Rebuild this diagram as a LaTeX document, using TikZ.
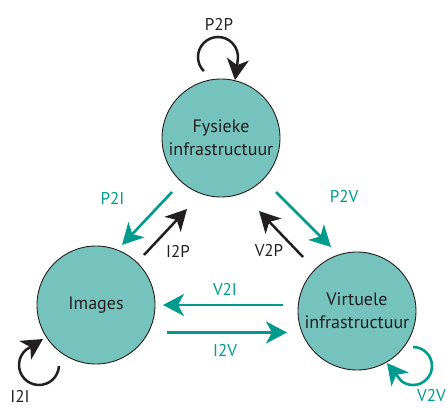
\documentclass[tikz,border=0pt]{standalone}
\usepackage{fontspec}
\setmainfont{PT Sans}
\usetikzlibrary{arrows.meta}
\definecolor{tealfill}{HTML}{76C3BD}
\definecolor{tealline}{HTML}{009B8D}
\definecolor{ink}{HTML}{231F20}
\begin{document}
\begin{tikzpicture}[x=1pt,y=-1pt,
  state/.style={circle, draw=ink, line width=0.9pt, fill=tealfill, minimum size=118pt,
    inner sep=0pt, align=center, font=\fontsize{18}{23}\selectfont, text=ink},
  lbl/.style={font=\fontsize{17}{20}\selectfont, inner sep=0pt},
  tip/.style={-{Stealth[length=21pt,width=22pt,inset=6pt]}},
  blackarr/.style={tip, draw=ink, line width=2.5pt},
  tealarr/.style={tip, draw=tealline, line width=2.6pt},
  ]
\useasboundingbox (0,0) rectangle (447,407);

% states
\node[state] (P) at (221,138) {Fysieke\\infrastructuur};
\node[state] (I) at (96,305) {Images};
\node[state] (V) at (357,311) {Virtuele\\infrastructuur};

% arrow end points
\coordinate (p2iS) at (172,192); \coordinate (p2iE) at (122,245);
\coordinate (i2pS) at (144,255); \coordinate (i2pE) at (187,209);
\coordinate (p2vS) at (276,192); \coordinate (p2vE) at (331,247);
\coordinate (v2pS) at (303,257); \coordinate (v2pE) at (259,211);
\coordinate (v2iS) at (283,305); \coordinate (v2iE) at (163,305);
\coordinate (i2vS) at (167,332.5); \coordinate (i2vE) at (287,332.5);

\draw[tealarr] (p2iS) -- (p2iE);
\draw[blackarr] (i2pS) -- (i2pE);
\draw[tealarr] (p2vS) -- (p2vE);
\draw[blackarr] (v2pS) -- (v2pE);
\draw[tealarr] (v2iS) -- (v2iE);
\draw[tealarr] (i2vS) -- (i2vE);

% loops
\coordinate (cP) at (218,57);  \coordinate (tP) at (235,80);
\coordinate (cI) at (39,365);  \coordinate (tI) at (43,339);
\coordinate (cV) at (413,366); \coordinate (tV) at (387,363);
\draw[blackarr] ([shift={(225:20pt)}]cP) arc[start angle=225, end angle=-10, radius=20pt] -- (tP);
\draw[blackarr] ([shift={(-3:20pt)}]cI) arc[start angle=-3, end angle=-230, radius=20pt] -- (tI);
\draw[tealarr] ([shift={(90:19pt)}]cV) arc[start angle=90, end angle=-128, radius=19pt] -- (tV);

% labels
\node[lbl, text=ink] (lP2P) at (219,24) {P2P};
\node[lbl, text=tealline] (lP2I) at (112.5,198) {P2I};
\node[lbl, text=ink] (lI2P) at (178,251) {I2P};
\node[lbl, text=ink] (lI2I) at (20,396) {I2I};
\node[lbl, text=tealline] (lP2V) at (344,197) {P2V};
\node[lbl, text=ink] (lV2P) at (269,251) {V2P};
\node[lbl, text=tealline] (lV2I) at (225,290) {V2I};
\node[lbl, text=tealline] (lI2V) at (225,351) {I2V};
\node[lbl, text=tealline, anchor=west] (lV2V) at (417,396) {V2V};
\end{tikzpicture}
\end{document}
